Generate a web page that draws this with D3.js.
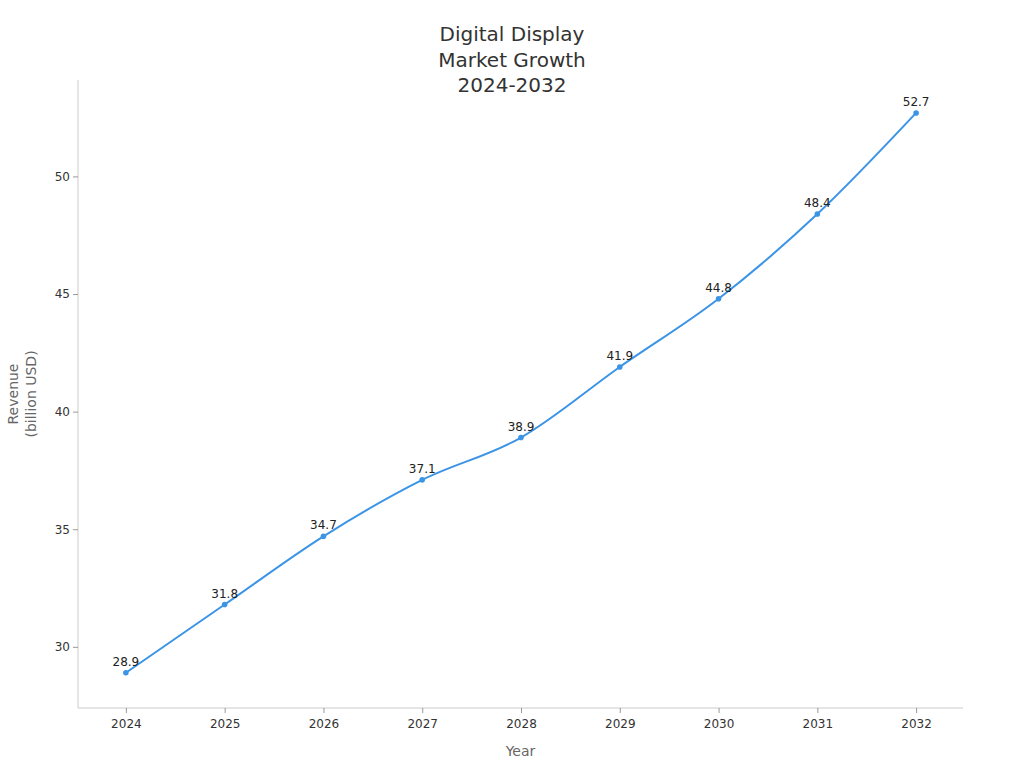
<!DOCTYPE html>
<html lang="en">
<head>
    <meta charset="UTF-8">
    <title>Digital Display Market Growth</title>
    <style>
        body { margin: 0; background: #fff; }
        svg, svg text { font-family: "DejaVu Sans", sans-serif; }
        .axis path, .axis line { stroke: #ccc; }
        .axis .tick line { stroke: #999; }
        .axis text { fill: #333; font-size: 12px; font-family: "DejaVu Sans", sans-serif; }
    </style>
</head>
<body>
    <svg width="1024" height="768"></svg>
    <script src="https://d3js.org/d3.v7.min.js"></script>
    <script>
        // data
        const years = ["2024", "2025", "2026", "2027", "2028", "2029", "2030", "2031", "2032"];
        const revenue = [28.9, 31.8, 34.7, 37.1, 38.9, 41.9, 44.8, 48.4, 52.7];
        const yTicks = [30, 35, 40, 45, 50];
        const titleLines = ["Digital Display", "Market Growth", "2024-2032"];

        const svg = d3.select("svg");
        const margin = { top: 80, right: 61, bottom: 60, left: 78 };
        const width = 1024, height = 768;

        const x = d3.scalePoint()
            .domain(years)
            .range([76.5, 965.5])
            .padding(0.5);

        const y = d3.scaleLinear()
            .domain([27.4, 54.1])
            .range([height - margin.bottom, margin.top]);

        // axes
        svg.append("g")
            .attr("class", "axis")
            .attr("transform", `translate(0,${height - margin.bottom})`)
            .call(d3.axisBottom(x).tickSize(5).tickPadding(6))
            .call(g => g.attr("font-family", null))
            .call(g => g.select(".domain").attr("d", `M${margin.left},0H${width - margin.right}`));

        svg.append("g")
            .attr("class", "axis")
            .attr("transform", `translate(${margin.left},0)`)
            .call(d3.axisLeft(y).tickValues(yTicks).tickSize(5).tickPadding(3))
            .call(g => g.attr("font-family", null))
            .call(g => g.select(".domain").attr("d", `M0,${margin.top}V${height - margin.bottom}`));

        // line
        const data = years.map((d, i) => ({ year: d, value: revenue[i] }));

        const line = d3.line()
            .x(d => x(d.year))
            .y(d => y(d.value))
            .curve(d3.curveMonotoneX);

        svg.append("path")
            .datum(data)
            .attr("fill", "none")
            .attr("stroke", "#3b94e5")
            .attr("stroke-width", 2)
            .attr("d", line);

        svg.selectAll(".dot")
            .data(data)
            .enter().append("circle")
            .attr("class", "dot")
            .attr("cx", d => x(d.year))
            .attr("cy", d => y(d.value))
            .attr("r", 2.8)
            .attr("fill", "#3b94e5");

        svg.selectAll(".val")
            .data(data)
            .enter().append("text")
            .attr("class", "val")
            .attr("x", d => x(d.year))
            .attr("y", d => y(d.value) - 7)
            .attr("text-anchor", "middle")
            .attr("font-size", 12)
            .attr("fill", "#222")
            .text(d => d.value.toFixed(1));

        // title
        svg.append("text")
            .attr("text-anchor", "middle")
            .attr("font-size", 20)
            .attr("fill", "#333")
            .selectAll("tspan")
            .data(titleLines)
            .enter().append("tspan")
            .attr("x", 512)
            .attr("y", (d, i) => 41 + i * 25.5)
            .text(d => d);

        // axis titles
        svg.append("text")
            .attr("x", (margin.left + width - margin.right) / 2)
            .attr("y", 756)
            .attr("text-anchor", "middle")
            .attr("font-size", 14)
            .attr("fill", "#666")
            .text("Year");

        const yt = svg.append("text")
            .attr("transform", `translate(0,${(margin.top + height - margin.bottom) / 2}) rotate(-90)`)
            .attr("text-anchor", "middle")
            .attr("font-size", 14)
            .attr("fill", "#666");
        yt.append("tspan").attr("x", 0).attr("y", 18).text("Revenue");
        yt.append("tspan").attr("x", 0).attr("y", 36).text("(billion USD)");
    </script>
</body>
</html>
